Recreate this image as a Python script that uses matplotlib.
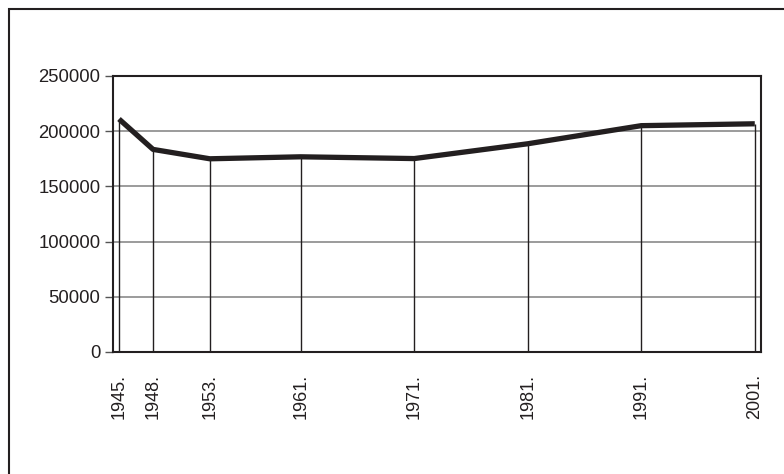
import matplotlib.pyplot as plt
from matplotlib.patches import Rectangle

years = [1945, 1948, 1953, 1961, 1971, 1981, 1991, 2001]
population = [211000, 183500, 175000, 176800, 175200, 188600, 205000, 206700]
year_labels = [str(y) + "." for y in years]
y_ticks = [0, 50000, 100000, 150000, 200000, 250000]

plt.rcParams["font.family"] = ["Liberation Sans", "DejaVu Sans"]

fig = plt.figure(figsize=(7.84, 4.74), dpi=100)
ax = fig.add_axes([0.1441, 0.2574, 0.9707 - 0.1441, 0.8397 - 0.2574])

# outer frame (left and top edges visible, rest runs off the picture)
fig.patches.append(Rectangle((9 / 784, -0.05), 1.2, 1 - 9 / 474 + 0.05,
                             transform=fig.transFigure, fill=False,
                             edgecolor="#231f20", linewidth=1.5))

for v in y_ticks[1:-1]:
    ax.axhline(v, color="#8a8a8a", linewidth=1.2, zorder=1)

ax.vlines(years, 0, population, colors="#231f20", linewidth=1.0, zorder=2)
ax.plot(years, population, color="#231f20", linewidth=3.8,
        solid_capstyle="butt", zorder=3)

ax.set_xlim(1944.47, 2001.55)
ax.set_ylim(0, 250000)
ax.set_yticks(y_ticks)
ax.set_yticklabels([str(v) for v in y_ticks], fontsize=13.3, color="#231f20")
ax.set_xticks(years)
ax.set_xticklabels(year_labels, rotation=90, fontsize=13, color="#231f20")
ax.tick_params(axis="x", length=0, pad=16)
ax.tick_params(axis="y", length=6, width=1, color="#555555", pad=3)

for s in ax.spines.values():
    s.set_color("#231f20")
    s.set_linewidth(1.5)

fig.savefig("out.png", dpi=100)
